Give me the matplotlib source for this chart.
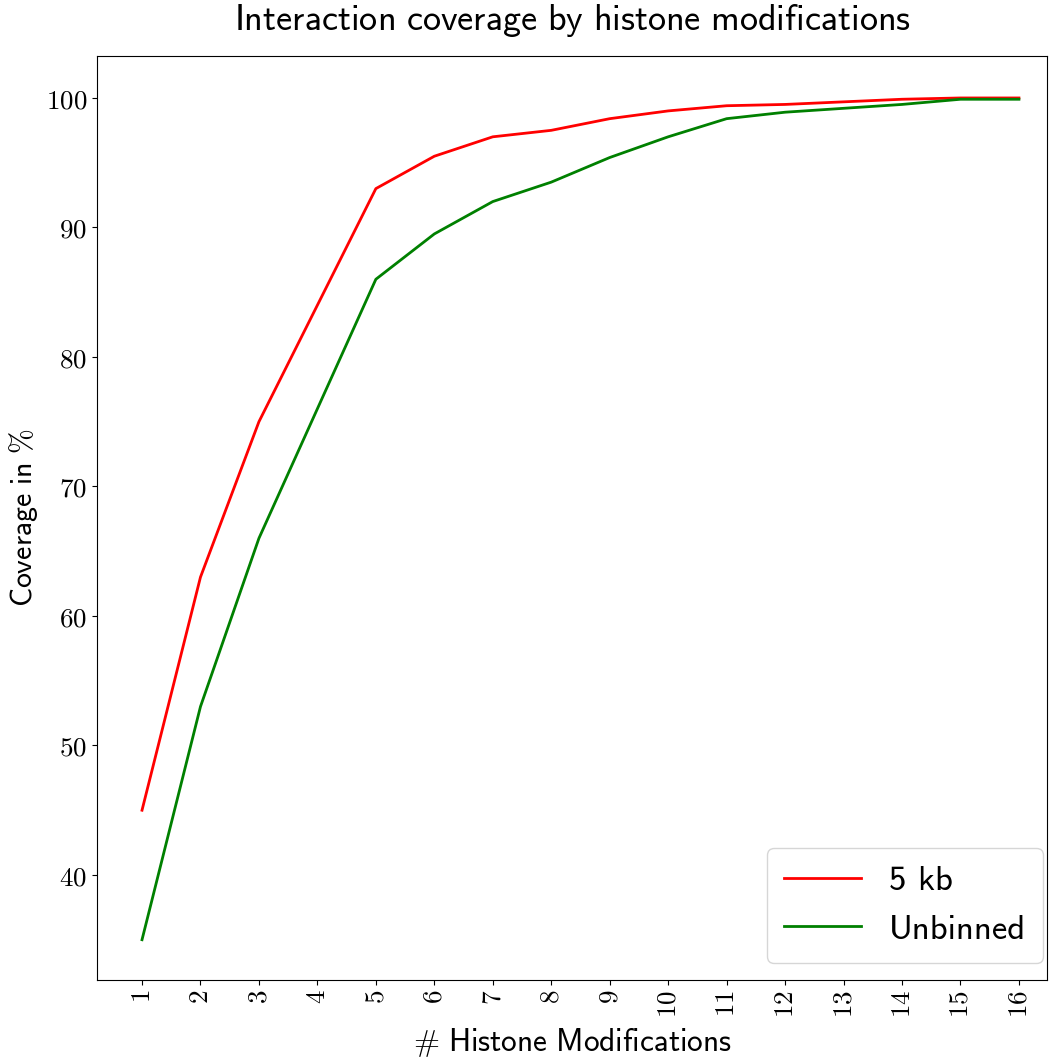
import matplotlib
matplotlib.use("Agg")
import matplotlib.pyplot as plt

plt.rcParams["mathtext.fontset"] = "cm"
plt.rcParams["font.family"] = "serif"
plt.rcParams["font.serif"] = ["DejaVu Serif"]

n_mods = list(range(1, 17))
cov_5kb = [45, 63, 75, 84, 93, 95.5, 97, 97.5, 98.4, 99.0, 99.4, 99.5, 99.7, 99.9, 100, 100]
cov_unbinned = [35, 53, 66, 76, 86, 89.5, 92, 93.5, 95.4, 97, 98.4, 98.9, 99.2, 99.5, 99.9, 99.9]
y_ticks = [40, 50, 60, 70, 80, 90, 100]


def sf(s):
    return r"$\mathsf{" + s.replace(" ", r"\ ") + "}$"


fig = plt.figure(figsize=(10.62, 10.62), dpi=100)
ax = fig.add_axes([97 / 1062, 1 - 980 / 1062, 950 / 1062, 924 / 1062])

ax.plot(n_mods, cov_5kb, color="red", lw=2, label="5 kb")
ax.plot(n_mods, cov_unbinned, color="green", lw=2, label="Unbinned")

ax.set_xticks(n_mods)
ax.set_xticklabels([r"$%d$" % i for i in n_mods], rotation=90, fontsize=19.5)
ax.set_yticks(y_ticks)
ax.set_yticklabels([r"$%d$" % v for v in y_ticks], fontsize=19.5)
ax.set_xlim(0.23, 16.48)
ax.set_ylim(31.89, 103.24)

ax.set_xlabel(r"$\#\ \mathsf{Histone\ Modifications}$", fontsize=22.5, labelpad=6)
ax.set_ylabel(r"$\mathsf{Coverage\ in}\ \%$", fontsize=21.5, labelpad=4)
ax.set_title(sf("Interaction coverage by histone modifications"), fontsize=26, pad=19)

ax.legend(loc="lower right", prop={"family": "cmss10", "size": 25},
          handlelength=2.2, borderpad=0.5,
          bbox_to_anchor=(0.9958, 0.0184), borderaxespad=0)

fig.savefig("out.png", dpi=100)
